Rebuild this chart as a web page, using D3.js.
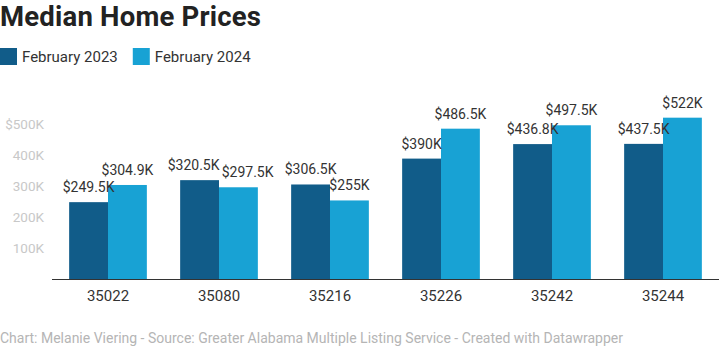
<!DOCTYPE html>
<html lang="en">
<head>
<meta charset="UTF-8">
<title>Median Home Prices</title>
<script src="https://d3js.org/d3.v7.min.js"></script>
<style>
  body { margin: 0; padding: 0; background: #fff; }
  svg { display: block; font-family: Roboto, "Noto Sans", sans-serif; }
</style>
</head>
<body>
<svg width="719" height="347"></svg>
<script>
// data
const zipCodes = ["35022", "35080", "35216", "35226", "35242", "35244"];
const feb2023 = [249.5, 320.5, 306.5, 390, 436.8, 437.5];
const feb2024 = [304.9, 297.5, 255, 486.5, 497.5, 522];
const seriesNames = ["February 2023", "February 2024"];
const yTicks = [100, 200, 300, 400, 500];

const colors = ["#115c89", "#18a2d4"];

const svg = d3.select("svg");
const fmt = v => "$" + (+v.toFixed(1)) + "K";

// title
svg.append("text")
  .attr("x", 0).attr("y", 26)
  .attr("font-size", 27.5).attr("font-weight", 700).attr("fill", "#222")
  .attr("letter-spacing", 0.2)
  .text("Median Home Prices");

// legend
const leg = svg.append("g");
let lx = 0;
seriesNames.forEach((name, i) => {
  const g = leg.append("g").attr("transform", `translate(${lx},48)`);
  g.append("rect").attr("width", 17).attr("height", 17).attr("fill", colors[i]);
  const t = g.append("text").attr("x", 22).attr("y", 14)
    .attr("font-size", 15).attr("fill", "#333").text(name);
  lx += 22 + t.node().getComputedTextLength() + 15;
});

// scales
const x = d3.scaleBand().domain(zipCodes).range([52.5, 718.5])
  .paddingInner(0.3).paddingOuter(0.15);
const xSub = d3.scaleBand().domain([0, 1]).range([0, x.bandwidth()]);
const y = d3.scaleLinear().domain([0, 500]).range([279.5, 124.5]);

// y axis labels
svg.append("g").selectAll("text").data(yTicks).join("text")
  .attr("x", 44).attr("y", d => y(d)).attr("dy", "0.35em")
  .attr("text-anchor", "end").attr("font-size", 13.5).attr("fill", "#c8c8c8")
  .text(d => d === 500 ? "$" + d + "K" : d + "K");

// bars
const rows = zipCodes.map((z, i) => ({ zip: z, vals: [feb2023[i], feb2024[i]] }));
const groups = svg.append("g").selectAll("g").data(rows).join("g")
  .attr("transform", d => `translate(${x(d.zip)},0)`);

groups.selectAll("rect").data(d => d.vals).join("rect")
  .attr("x", (d, i) => xSub(i))
  .attr("width", xSub.bandwidth())
  .attr("y", d => y(d))
  .attr("height", d => y(0) - y(d))
  .attr("fill", (d, i) => colors[i]);

groups.selectAll("text").data(d => d.vals).join("text")
  .attr("x", (d, i) => xSub(i) + xSub.bandwidth() / 2)
  .attr("y", d => y(d) - 10)
  .attr("text-anchor", "middle").attr("font-size", 14).attr("fill", "#333")
  .text(fmt);

// push apart value labels that collide inside a group
groups.each(function () {
  const lbl = d3.select(this).selectAll("text").nodes();
  const a = lbl[0].getBBox(), b = lbl[1].getBBox();
  const overlapX = a.x + a.width > b.x;
  const overlapY = Math.abs(a.y - b.y) < a.height * 0.9;
  if (overlapX && overlapY) {
    const ax = +lbl[0].getAttribute("x") - 6;
    lbl[0].setAttribute("x", ax);
    const aRight = ax + a.width / 2;
    lbl[1].setAttribute("x", aRight + 2 + b.width / 2);
  }
});

// x axis
const xAxis = svg.append("g").attr("transform", `translate(0,${y(0)})`)
  .call(d3.axisBottom(x).tickSize(0).tickPadding(11));
xAxis.select(".domain").attr("stroke", "#333").attr("d", "M52,0H719");
xAxis.selectAll("text").attr("font-size", 15).attr("fill", "#333")
  .attr("font-family", "Roboto, sans-serif");

// footer
svg.append("text")
  .attr("x", 0).attr("y", 343)
  .attr("font-size", 14).attr("fill", "#b5b5b5")
  .text("Chart: Melanie Viering - Source: Greater Alabama Multiple Listing Service - Created with Datawrapper");
</script>
</body>
</html>
